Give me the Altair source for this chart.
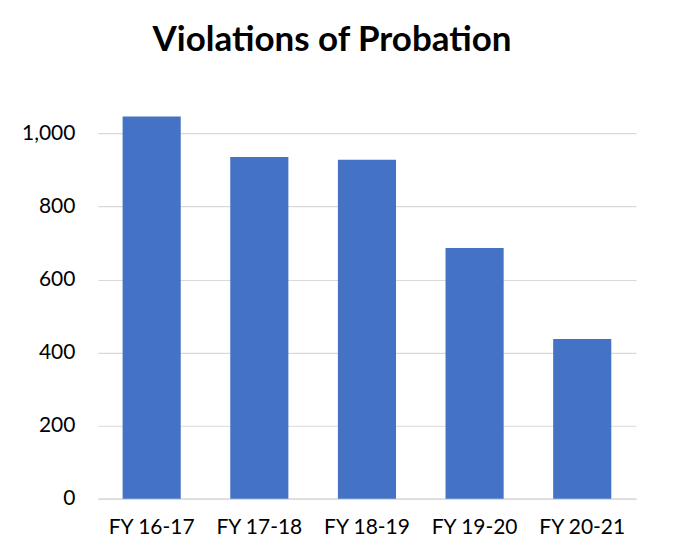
import altair as alt
import pandas as pd

categories = ["FY 16-17", "FY 17-18", "FY 18-19", "FY 19-20", "FY 20-21"]
values = [1046, 935, 928, 686, 437]
y_ticks = [0, 200, 400, 600, 800, 1000]

df = pd.DataFrame({"year": categories, "count": values})

chart = alt.Chart(df).mark_bar(color="#4472C4").encode(
    x=alt.X("year:N", sort=categories, title=None,
            scale=alt.Scale(paddingInner=0.46, paddingOuter=0.23),
            axis=alt.Axis(labelAngle=0, labelFont="Lato", labelFontSize=21,
                          labelColor="#000000", labelPadding=18, ticks=False,
                          domain=True, domainColor="#D9D9D9", domainWidth=1.2,
                          grid=False)),
    y=alt.Y("count:Q", title=None,
            scale=alt.Scale(domain=[0, 1200], nice=False),
            axis=alt.Axis(values=y_ticks, format=",d", labelFont="Lato",
                          labelFontSize=21, labelColor="#000000", labelPadding=23,
                          ticks=False, domain=False, grid=True,
                          gridColor="#D9D9D9", gridWidth=1.2)),
).properties(
    width=539,
    height=439,
    title=alt.TitleParams("Violations of Probation", font="Lato", fontSize=35,
                          fontWeight="bold", color="#000000", anchor="middle",
                          offset=2, dx=-35),
    autosize="none",
    padding={"left": 90, "top": 52, "right": 30, "bottom": 42},
    background="white",
).configure_view(stroke=None)

chart.save("out.html", embed_options={"renderer": "svg", "actions": False})
